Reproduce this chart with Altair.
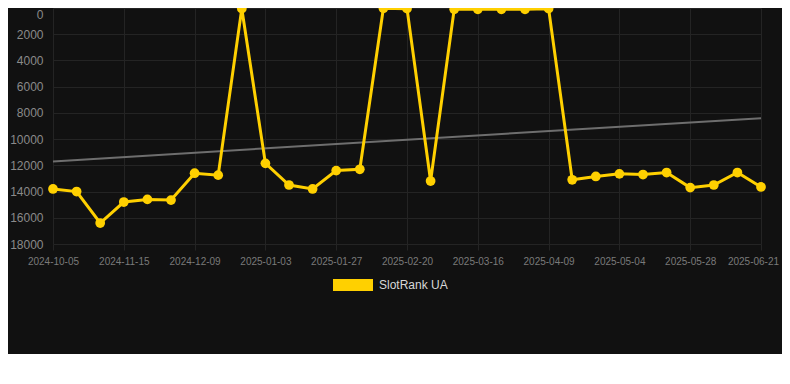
import altair as alt
import pandas as pd

dates = [
    "2024-10-05", "2024-10-19", "2024-11-01", "2024-11-15", "2024-11-23", "2024-12-01",
    "2024-12-09", "2024-12-17", "2024-12-25", "2025-01-03", "2025-01-11", "2025-01-19",
    "2025-01-27", "2025-02-04", "2025-02-12", "2025-02-20", "2025-02-28", "2025-03-08",
    "2025-03-16", "2025-03-24", "2025-04-01", "2025-04-09", "2025-04-17", "2025-04-25",
    "2025-05-04", "2025-05-12", "2025-05-20", "2025-05-28", "2025-06-05", "2025-06-13",
    "2025-06-21",
]
ranks = [
    13800, 14000, 16400, 14800, 14600, 14650,
    12600, 12750, 50, 11850, 13500, 13800,
    12400, 12300, 20, 50, 13200, 100,
    100, 100, 100, 50, 13100, 12850,
    12650, 12700, 12550, 13700, 13500, 12550,
    13650,
]
tick_dates = ["2024-10-05", "2024-11-15", "2024-12-09", "2025-01-03", "2025-01-27",
              "2025-02-20", "2025-03-16", "2025-04-09", "2025-05-04", "2025-05-28",
              "2025-06-21"]
y_ticks = [0, 2000, 4000, 6000, 8000, 10000, 12000, 14000, 16000, 18000]
trend_dates = ["2024-10-05", "2025-06-21"]
trend_values = [11700, 8400]
series_name = "SlotRank UA"

GOLD = "#FFD000"
GRID = "#242424"
FONT = "Liberation Sans"

df = pd.DataFrame({"date": dates, "rank": ranks, "series": series_name})
tdf = pd.DataFrame({"date": trend_dates, "rank": trend_values})

xscale = alt.Scale(type="point", domain=dates, range=[5, 713], padding=0)
yscale = alt.Scale(domain=[0, 18000], reverse=True, nice=False, zero=False)

xaxis = alt.Axis(values=tick_dates, labelAngle=0, title=None, grid=True, gridColor=GRID,
                 domain=False, tickColor=GRID, tickSize=6, labelPadding=6,
                 labelColor="#7a7a7a", labelFontSize=10, labelFont=FONT,
                 labelOffset={"condition": {"test": "datum.value == '2025-06-21'", "value": -8},
                              "value": 0})
yaxis = alt.Axis(values=y_ticks, format="d", title=None, grid=True, gridColor=GRID,
                 domain=False, ticks=False, labelPadding=5, labelColor="#8a8a8a",
                 labelFontSize=12, labelFont=FONT,
                 labelOffset={"condition": {"test": "datum.value == 0", "value": 6},
                              "value": 0})

color = alt.Color("series:N", scale=alt.Scale(domain=[series_name], range=[GOLD]),
                  legend=alt.Legend(title=None, orient="none", legendX=285, legendY=257,
                                    symbolType="M-1,-0.3L1,-0.3L1,0.3L-1,0.3Z",
                                    symbolSize=1600, symbolStrokeWidth=0,
                                    symbolFillColor=GOLD, labelColor="#d8d8d8",
                                    labelFontSize=12, labelFont=FONT, labelOffset=6,
                                    padding=0))

trend = alt.Chart(tdf).mark_line(color="#6e6e6e", strokeWidth=2).encode(
    x=alt.X("date:O", scale=xscale, axis=xaxis),
    y=alt.Y("rank:Q", scale=yscale, axis=yaxis),
)

line = alt.Chart(df).mark_line(strokeWidth=3).encode(
    x=alt.X("date:O", scale=xscale, axis=xaxis),
    y=alt.Y("rank:Q", scale=yscale, axis=yaxis),
    color=color,
)
pts = alt.Chart(df).mark_point(filled=True, size=95, opacity=1).encode(
    x=alt.X("date:O", scale=xscale, axis=xaxis),
    y=alt.Y("rank:Q", scale=yscale, axis=yaxis),
    color=color,
)

chart = alt.layer(trend, line, pts).properties(
    width=734, height=236,
    background="#111111",
    padding={"left": 40, "top": 0, "right": 0, "bottom": 110},
    autosize=alt.AutoSizeParams(type="none"),
).configure_view(stroke=None)

chart.save("out.html", embed_options={"renderer": "svg", "actions": False})
